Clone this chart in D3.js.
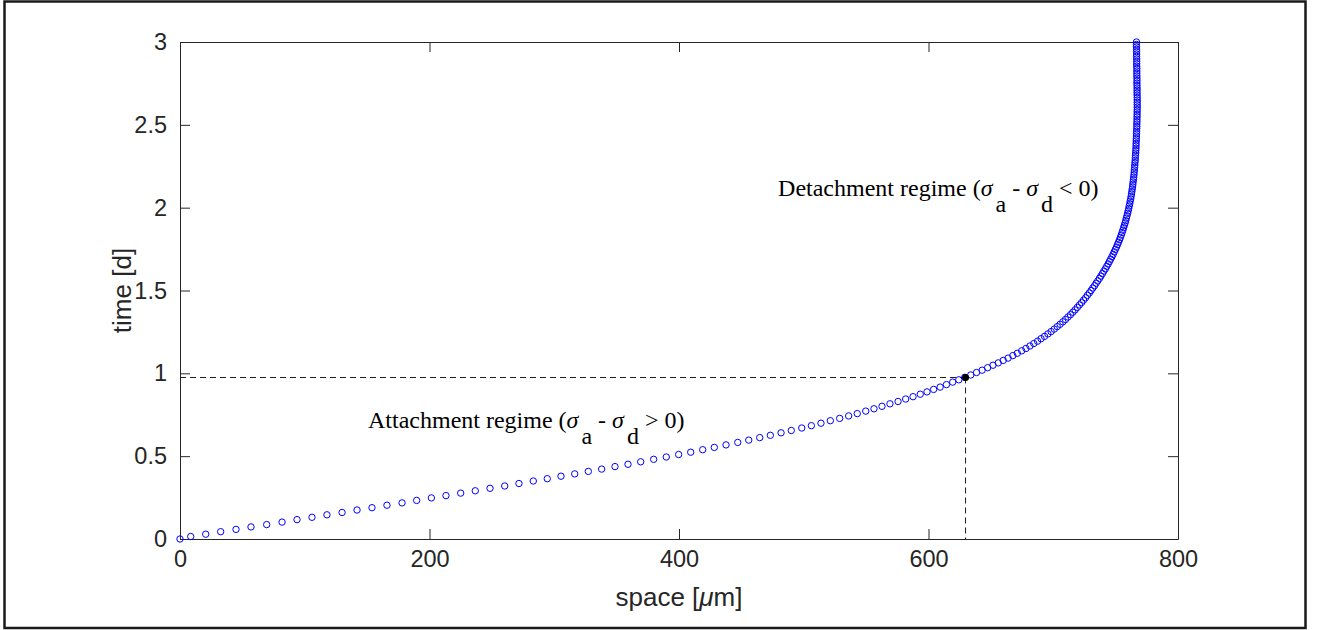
<!DOCTYPE html>
<html>
<head>
<meta charset="utf-8">
<script src="https://cdn.jsdelivr.net/npm/d3@7"></script>
<style>
  html, body { margin: 0; padding: 0; background: #fff; }
  svg { display: block; }
  .tick text { font-family: "Liberation Sans", Arial, Helvetica, sans-serif; font-size: 23.5px; fill: #262626; }
  .tick line, .domain { stroke: #262626; stroke-width: 1; }
  .label { font-family: "Liberation Sans", Arial, Helvetica, sans-serif; font-size: 26px; fill: #262626; }
  .nota { font-family: "Liberation Serif", "Times New Roman", serif; font-size: 24px; fill: #000; }
</style>
</head>
<body>
<div id="grafico"></div>
<script>
// time [d] of each front position (one marker per output step)
const timeDays = [
  0, 0.015, 0.029, 0.044, 0.058, 0.073, 0.087, 0.102, 0.117, 0.131,
  0.146, 0.160, 0.175, 0.189, 0.204, 0.218, 0.233, 0.248, 0.262, 0.277,
  0.291, 0.306, 0.320, 0.335, 0.350, 0.364, 0.379, 0.393, 0.408, 0.422,
  0.437, 0.451, 0.466, 0.481, 0.495, 0.510, 0.524, 0.539, 0.553, 0.568,
  0.583, 0.597, 0.612, 0.626, 0.641, 0.655, 0.670, 0.684, 0.699, 0.714,
  0.728, 0.743, 0.757, 0.772, 0.786, 0.801, 0.816, 0.830, 0.845, 0.859,
  0.874, 0.888, 0.903, 0.917, 0.932, 0.947, 0.961, 0.976, 0.990, 1.005,
  1.019, 1.034, 1.049, 1.063, 1.078, 1.092, 1.107, 1.121, 1.136, 1.150,
  1.165, 1.180, 1.194, 1.209, 1.223, 1.238, 1.252, 1.267, 1.282, 1.296,
  1.311, 1.325, 1.340, 1.354, 1.369, 1.383, 1.398, 1.413, 1.427, 1.442,
  1.456, 1.471, 1.485, 1.500, 1.515, 1.529, 1.544, 1.558, 1.573, 1.587,
  1.602, 1.617, 1.631, 1.646, 1.660, 1.675, 1.689, 1.704, 1.718, 1.733,
  1.748, 1.762, 1.777, 1.791, 1.806, 1.820, 1.835, 1.850, 1.864, 1.879,
  1.893, 1.908, 1.922, 1.937, 1.951, 1.966, 1.981, 1.995, 2.010, 2.024,
  2.039, 2.053, 2.068, 2.083, 2.097, 2.112, 2.126, 2.141, 2.155, 2.170,
  2.184, 2.199, 2.214, 2.228, 2.243, 2.257, 2.272, 2.286, 2.301, 2.316,
  2.330, 2.345, 2.359, 2.374, 2.388, 2.403, 2.417, 2.432, 2.447, 2.461,
  2.476, 2.490, 2.505, 2.519, 2.534, 2.549, 2.563, 2.578, 2.592, 2.607,
  2.621, 2.636, 2.650, 2.665, 2.680, 2.694, 2.709, 2.723, 2.738, 2.752,
  2.767, 2.782, 2.796, 2.811, 2.825, 2.840, 2.854, 2.869, 2.883, 2.898,
  2.913, 2.927, 2.942, 2.956, 2.971, 2.985, 3.000
];

// front position [um] at those times
const spaceUm = [
  0, 8.6, 20.6, 32.6, 44.9, 56.9, 69.5, 81.8, 93.8, 105.8,
  117.8, 129.9, 141.9, 153.9, 165.9, 178.0, 189.7, 201.5, 213.2, 225.0,
  236.7, 248.5, 260.3, 271.7, 283.2, 294.4, 305.4, 316.4, 327.3, 338.0,
  348.7, 359.1, 369.3, 379.7, 389.8, 399.7, 409.4, 419.0, 428.3, 437.7,
  447.1, 455.9, 464.7, 473.2, 481.8, 490.0, 498.4, 506.1, 513.8, 521.3,
  528.8, 536.0, 542.9, 549.7, 556.3, 562.7, 569.1, 575.6, 581.7, 587.6,
  593.4, 598.8, 604.1, 609.3, 614.4, 619.4, 624.3, 629.1, 633.9, 638.5,
  643.0, 647.4, 651.7, 655.9, 659.9, 663.8, 667.6, 671.2, 674.7, 678.1,
  681.3, 684.4, 687.4, 690.2, 693.0, 695.7, 698.3, 700.8, 703.2, 705.5,
  707.7, 709.8, 711.8, 713.8, 715.7, 717.5, 719.3, 721.0, 722.7, 724.3,
  725.9, 727.4, 728.9, 730.3, 731.7, 733.1, 734.4, 735.7, 737.0, 738.2,
  739.4, 740.6, 741.8, 742.9, 744.0, 745.0, 746.0, 747.0, 748.0, 748.9,
  749.8, 750.7, 751.5, 752.3, 753.1, 753.8, 754.5, 755.2, 755.8, 756.4,
  757.0, 757.6, 758.1, 758.6, 759.1, 759.6, 760.1, 760.5, 760.9, 761.3,
  761.7, 762.1, 762.4, 762.7, 763.0, 763.3, 763.6, 763.8, 764.0, 764.3,
  764.5, 764.7, 764.9, 765.0, 765.2, 765.4, 765.5, 765.7, 765.8, 765.9,
  766.1, 766.2, 766.3, 766.4, 766.4, 766.5, 766.6, 766.7, 766.8, 766.8,
  766.9, 767.0, 767.0, 767.1, 767.1, 767.2, 767.2, 767.2, 767.3, 767.3,
  767.3, 767.3, 767.3, 767.3, 767.2, 767.2, 767.2, 767.2, 767.1, 767.1,
  767.1, 767.1, 767.0, 767.0, 767.0, 767.0, 766.9, 766.9, 766.9, 766.9,
  766.8, 766.8, 766.8, 766.8, 766.7, 766.7, 766.7
];

// point where the regime switches (black dot + dashed guides)
const switchSpace = 629.7;
const switchTime = 0.975;

const xTicks = [0, 200, 400, 600, 800];
const yTicks = [0, 0.5, 1, 1.5, 2, 2.5, 3];

const width = 1321;
const height = 630;

const svg = d3.select('#grafico')
  .append('svg')
  .attr('width', width)
  .attr('height', height);

// outer frame of the figure
svg.append('rect')
  .attr('x', 4.5)
  .attr('y', 1.5)
  .attr('width', 1301)
  .attr('height', 626.5)
  .attr('fill', 'none')
  .attr('stroke', '#1a1a1a')
  .attr('stroke-width', 2.5);

const x = d3.scaleLinear().domain([0, 800]).range([180, 1178]);
const y = d3.scaleLinear().domain([0, 3]).range([539, 42]);

// axes, ticks pointing inwards, box on
svg.append('g')
  .attr('transform', `translate(0,${y(0)})`)
  .call(d3.axisBottom(x).tickValues(xTicks).tickSizeInner(-10).tickSizeOuter(0).tickPadding(11));

svg.append('g')
  .attr('transform', `translate(0,${y(3)})`)
  .call(d3.axisTop(x).tickValues(xTicks).tickSizeInner(-10).tickSizeOuter(0).tickFormat(''));

svg.append('g')
  .attr('transform', `translate(${x(0)},0)`)
  .call(d3.axisLeft(y).tickValues(yTicks).tickSizeInner(-10).tickSizeOuter(0).tickPadding(13)
    .tickFormat(d3.format('')));

svg.append('g')
  .attr('transform', `translate(${x(800)},0)`)
  .call(d3.axisRight(y).tickValues(yTicks).tickSizeInner(-10).tickSizeOuter(0).tickFormat(''));

svg.selectAll('.domain').attr('stroke', '#262626');

// axis labels
const xLabel = svg.append('text')
  .attr('class', 'label')
  .attr('x', (x(0) + x(800)) / 2)
  .attr('y', 606)
  .attr('text-anchor', 'middle');
xLabel.append('tspan').text('space [');
xLabel.append('tspan').style('font-style', 'italic').text('μ');
xLabel.append('tspan').text('m]');

svg.append('text')
  .attr('class', 'label')
  .attr('transform', `translate(131,${(y(0) + y(3)) / 2}) rotate(-90)`)
  .attr('text-anchor', 'middle')
  .text('time [d]');

// dashed guides to the switch point
const guias = svg.append('g')
  .attr('stroke', '#1a1a1a')
  .attr('stroke-width', 1)
  .attr('stroke-dasharray', '6,4')
  .attr('fill', 'none');

guias.append('line')
  .attr('x1', x(0)).attr('y1', y(switchTime))
  .attr('x2', x(switchSpace)).attr('y2', y(switchTime));

guias.append('line')
  .attr('x1', x(switchSpace)).attr('y1', y(switchTime))
  .attr('x2', x(switchSpace)).attr('y2', y(0));

// markers
const puntos = timeDays.map((t, i) => ({ t: t, s: spaceUm[i] }));

svg.append('g')
  .selectAll('circle')
  .data(puntos)
  .join('circle')
  .attr('cx', d => x(d.s))
  .attr('cy', d => y(d.t))
  .attr('r', 3.2)
  .attr('fill', 'none')
  .attr('stroke', '#0000ff')
  .attr('stroke-width', 1);

svg.append('circle')
  .attr('cx', x(switchSpace))
  .attr('cy', y(switchTime))
  .attr('r', 3.5)
  .attr('fill', '#000');

// annotations
function nota(sx, ty, parte1, signo) {
  const t = svg.append('text')
    .attr('class', 'nota')
    .attr('x', x(sx))
    .attr('y', y(ty));
  t.append('tspan').text(parte1 + ' (');
  t.append('tspan').style('font-style', 'italic').text('σ');
  t.append('tspan').attr('dx', 3).attr('dy', 16).text('a');
  t.append('tspan').attr('dy', -16).text(' - ');
  t.append('tspan').style('font-style', 'italic').text('σ');
  t.append('tspan').attr('dx', 3).attr('dy', 16).text('d');
  t.append('tspan').attr('dy', -16).text(' ' + signo + ' 0)');
}

nota(479.4, 2.07, 'Detachment regime', '<');
nota(150.7, 0.67, 'Attachment regime', '>');
</script>
</body>
</html>
